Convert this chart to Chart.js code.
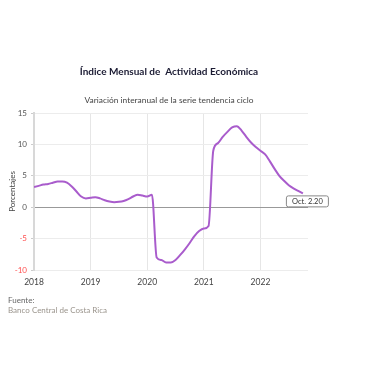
<!DOCTYPE html>
<html><head><meta charset="utf-8">
<script src="https://cdn.jsdelivr.net/npm/chart.js@4"></script>
<style>html,body{margin:0;padding:0;background:#fff}#w{width:380px;height:380px;position:relative}</style>
</head><body><div id="w"><canvas id="c" width="380" height="380"></canvas></div>
<script>
const title = "Índice Mensual de  Actividad Económica";
const subtitle = "Variación interanual de la serie tendencia ciclo";
const yAxisTitle = "Porcentajes";
const sourceLabel = "Fuente:";
const sourceText = "Banco Central de Costa Rica";
const lastLabel = "Oct. 2.20";
const startYear = 2018;
const xTickYears = [2018, 2019, 2020, 2021, 2022];
const yTicks = [-10, -5, 0, 5, 10, 15];
// monthly values Jan 2018 .. Oct 2022
const values2018 = [3.2, 3.4, 3.6, 3.7, 3.9, 4.1, 4.1, 3.9, 3.3, 2.5, 1.7, 1.4];
const values2019 = [1.5, 1.6, 1.4, 1.1, 0.9, 0.8, 0.85, 1.0, 1.3, 1.7, 2.0, 1.85];
const values2020 = [1.7, 2.0, -8.0, -8.4, -8.8, -8.8, -8.4, -7.6, -6.7, -5.7, -4.6, -3.8];
const values2021 = [-3.4, -3.0, 9.0, 10.2, 11.2, 12.0, 12.7, 12.9, 12.2, 11.2, 10.3, 9.6];
const values2022 = [9.0, 8.4, 7.3, 6.1, 5.0, 4.2, 3.5, 3.0, 2.6, 2.2];

const series = [].concat(values2018, values2019, values2020, values2021, values2022);
const points = series.map((v, i) => ({x: startYear + i / 12, y: v}));

const FONT = "Lato, 'Open Sans', sans-serif";

const extras = {
  id: 'extras',
  afterDraw(chart) {
    const ctx = chart.ctx;
    const ca = chart.chartArea;
    const cx = (ca.left + ca.right) / 2 - 2;
    ctx.save();
    ctx.textAlign = 'center';
    ctx.textBaseline = 'middle';
    ctx.fillStyle = '#1b1b33';
    ctx.font = "bold 10px " + FONT;
    ctx.fillText(title, cx, 72);
    ctx.fillStyle = '#444';
    ctx.font = "8.4px " + FONT;
    ctx.fillText(subtitle, cx, 100);
    ctx.textAlign = 'left';
    ctx.fillStyle = '#666';
    ctx.font = "8px " + FONT;
    ctx.fillText(sourceLabel, 8, 300);
    ctx.fillStyle = '#9a948c';
    ctx.fillText(sourceText, 8, 310);
    // last value label
    const meta = chart.getDatasetMeta(0);
    const lp = meta.data[meta.data.length - 1];
    const bx = lp.x - 17, by = lp.y + 2, bw = 42, bh = 11;
    ctx.fillStyle = '#fff';
    ctx.strokeStyle = '#888';
    ctx.lineWidth = 1;
    ctx.beginPath();
    ctx.roundRect(bx + 0.5, by + 0.5, bw, bh, 2);
    ctx.fill();
    ctx.stroke();
    ctx.fillStyle = '#333';
    ctx.font = "7.5px " + FONT;
    ctx.textAlign = 'center';
    ctx.fillText(lastLabel, bx + bw / 2 + 0.5, by + bh / 2 + 1);
    ctx.restore();
  }
};

new Chart(document.getElementById('c'), {
  type: 'line',
  data: {
    datasets: [{
      data: points,
      borderColor: '#a95ccc',
      borderWidth: 2,
      pointRadius: 0,
      cubicInterpolationMode: 'monotone',
      fill: false
    }]
  },
  options: {
    responsive: false,
    animation: false,
    layout: {padding: {left: 0, top: 113, right: 72, bottom: 0}},
    plugins: {legend: {display: false}, tooltip: {enabled: false}},
    scales: {
      x: {
        type: 'linear',
        min: startYear,
        max: 2022.84,
        afterFit(s) { s.height = 110; },
        afterBuildTicks(s) { s.ticks = xTickYears.map(v => ({value: v})); },
        ticks: {
          color: '#444',
          font: {family: FONT, size: 8.5},
          padding: 7,
          callback: v => String(v),
          maxRotation: 0
        },
        grid: {color: '#e6e6e6', lineWidth: 1, drawTicks: false},
        border: {display: false}
      },
      y: {
        min: -10,
        max: 15,
        afterFit(s) { s.width = 34; },
        afterBuildTicks(s) { s.ticks = yTicks.map(v => ({value: v})); },
        ticks: {
          color: ctx => ctx.tick.value < 0 ? '#ff4d4d' : '#555',
          font: {family: FONT, size: 8},
          padding: 4
        },
        grid: {
          color: ctx => ctx.tick.value === 0 ? '#999' : '#ececec',
          lineWidth: 1,
          tickLength: 3,
          tickColor: '#ccc'
        },
        border: {display: true, color: '#d8d8d8', width: 2},
        title: {
          display: true,
          text: yAxisTitle,
          color: '#444',
          font: {family: FONT, size: 8},
          padding: {top: 8, bottom: 0}
        }
      }
    }
  },
  plugins: [extras]
});
</script></body></html>
